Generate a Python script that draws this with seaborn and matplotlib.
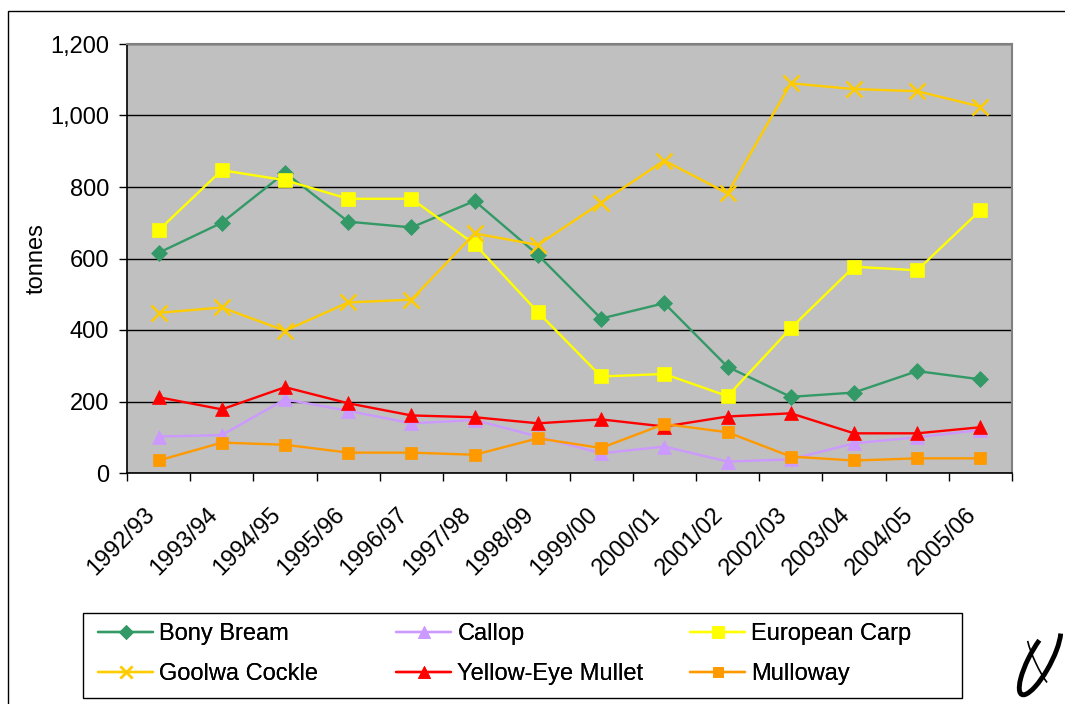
import numpy as np
import pandas as pd
import matplotlib
matplotlib.use("Agg")
import matplotlib.pyplot as plt
from matplotlib.patches import Rectangle, Arc
from matplotlib.transforms import ScaledTranslation
import seaborn as sns

# Dati (tonnellate per stagione)
seasons = ["1992/93", "1993/94", "1994/95", "1995/96", "1996/97", "1997/98", "1998/99",
           "1999/00", "2000/01", "2001/02", "2002/03", "2003/04", "2004/05", "2005/06"]
bony_bream = [616, 700, 840, 703, 687, 761, 610, 432, 475, 297, 213, 225, 285, 262]
callop = [102, 106, 206, 174, 139, 148, 102, 55, 74, 32, 38, 83, 100, 120]
european_carp = [679, 847, 819, 767, 767, 640, 450, 270, 277, 215, 405, 577, 567, 735]
goolwa_cockle = [448, 463, 398, 477, 485, 670, 638, 756, 874, 782, 1090, 1074, 1068, 1025]
yellow_eye_mullet = [212, 178, 240, 195, 161, 156, 139, 150, 130, 158, 167, 111, 111, 128]
mulloway = [35, 85, 79, 57, 57, 51, 97, 70, 137, 114, 46, 35, 41, 41]

species = ["Bony Bream", "Callop", "European Carp", "Goolwa Cockle", "Yellow-Eye Mullet", "Mulloway"]
series = [bony_bream, callop, european_carp, goolwa_cockle, yellow_eye_mullet, mulloway]

palette = {"Bony Bream": "#339966", "Callop": "#CC99FF", "European Carp": "#FFFF00",
           "Goolwa Cockle": "#FFCC00", "Yellow-Eye Mullet": "#FF0000", "Mulloway": "#FF9900"}
markers = {"Bony Bream": "D", "Callop": "^", "European Carp": "s",
           "Goolwa Cockle": "x", "Yellow-Eye Mullet": "^", "Mulloway": "s"}
sizes = {"Bony Bream": 8, "Callop": 10, "European Carp": 9.5,
         "Goolwa Cockle": 11, "Yellow-Eye Mullet": 10, "Mulloway": 9}

rows = []
for name, vals in zip(species, series):
    for i, v in enumerate(vals):
        rows.append({"idx": i, "season": seasons[i], "species": name, "tonnes": v})
df = pd.DataFrame(rows)

sns.set_theme(style="white")
plt.rcParams['font.family'] = ['Liberation Sans', 'DejaVu Sans']
plt.rcParams['text.color'] = 'black'
plt.rcParams['xtick.color'] = 'black'
plt.rcParams['ytick.color'] = 'black'
plt.rcParams['axes.labelcolor'] = 'black'

FS = 17

fig = plt.figure(figsize=(10.65, 7.04), dpi=100)
ax = fig.add_axes([127 / 1065, 1 - 473 / 704, (1012 - 127) / 1065, (473 - 44) / 704])
ax.set_facecolor("#C0C0C0")

# una serie alla volta (marker pieni e "x" non si possono mescolare)
handles = {}
for name in species:
    sub = df[df["species"] == name]
    n_before = len(ax.lines)
    sns.lineplot(data=sub, x="idx", y="tonnes", color=palette[name],
                 marker=markers[name], markersize=sizes[name], errorbar=None,
                 linewidth=1.7, ax=ax, zorder=3, label=name)
    line = ax.lines[n_before]
    line.set_markeredgecolor(palette[name])
    line.set_markerfacecolor(palette[name])
    line.set_markeredgewidth(1.8 if markers[name] == "x" else 0.5)
    handles[name] = line
if ax.get_legend() is not None:
    ax.get_legend().remove()

ax.set_xlim(-0.5, 13.5)
ax.set_ylim(0, 1200)
ax.set_yticks(range(0, 1201, 200))
ax.set_yticklabels([f"{v:,}" for v in range(0, 1201, 200)], fontsize=FS)
ax.yaxis.grid(True, color="black", linewidth=1)
ax.set_axisbelow(True)

ax.set_xticks(range(len(seasons)))
ax.set_xticklabels(seasons, rotation=45, ha="right", rotation_mode="anchor", fontsize=FS)
ax.set_xticks(np.arange(-0.5, 14, 1), minor=True)
ax.tick_params(axis="x", which="major", length=0, pad=22)
ax.tick_params(axis="x", which="minor", length=6, width=1, color="black", direction="out", bottom=True)
ax.tick_params(axis="y", length=6, width=1, color="black", direction="out", left=True, pad=7)
# spostiamo un po' a sinistra le etichette ruotate
shift = ScaledTranslation(-15 / 100, 0, fig.dpi_scale_trans)
for lab in ax.get_xticklabels():
    lab.set_transform(lab.get_transform() + shift)

ax.set_xlabel("")
ax.set_ylabel("tonnes", fontsize=FS, labelpad=2)

for s in ["left", "bottom"]:
    ax.spines[s].set_color("black")
    ax.spines[s].set_linewidth(1.2)
for s in ["top", "right"]:
    ax.spines[s].set_color("#808080")
    ax.spines[s].set_linewidth(1.5)

# legenda: tre colonne a larghezza fissa, dentro un riquadro
fig.patches.append(Rectangle((83 / 1065, 1 - 698 / 704), 879 / 1065, 85 / 704,
                             transform=fig.transFigure, fill=False, edgecolor="black",
                             linewidth=1))
columns = [["Bony Bream", "Goolwa Cockle"], ["Callop", "Yellow-Eye Mullet"],
           ["European Carp", "Mulloway"]]
col_x = [98, 396, 690]
for names, x0 in zip(columns, col_x):
    lg = fig.legend([handles[n] for n in names], names, loc="center left",
                    bbox_to_anchor=(x0 / 1065, 1 - 654 / 704), frameon=False,
                    fontsize=FS, handlelength=2.35, handletextpad=0.25,
                    borderpad=0, borderaxespad=0, labelspacing=0.75, markerscale=0.85)
    fig.add_artist(lg)

# cornice esterna del grafico
fig.patches.append(Rectangle((8 / 1065, -0.1), 1.2, 1.1 - 11 / 704, transform=fig.transFigure,
                             fill=False, edgecolor="black", linewidth=1))

# piccolo logo in basso a destra
lax = fig.add_axes([1010 / 1065, 0, 55 / 1065, 94 / 704])
lax.set_xlim(1010, 1065)
lax.set_ylim(704, 610)
lax.set_aspect("equal")
lax.axis("off")
lax.add_patch(Arc((1040, 660), 78, 22, angle=-62, theta1=10, theta2=330,
                  color="black", linewidth=3.5))
lax.add_patch(Arc((1041, 660), 62, 12, angle=-115, theta1=190, theta2=350,
                  color="black", linewidth=1.2))

fig.savefig("out.png", dpi=100)
